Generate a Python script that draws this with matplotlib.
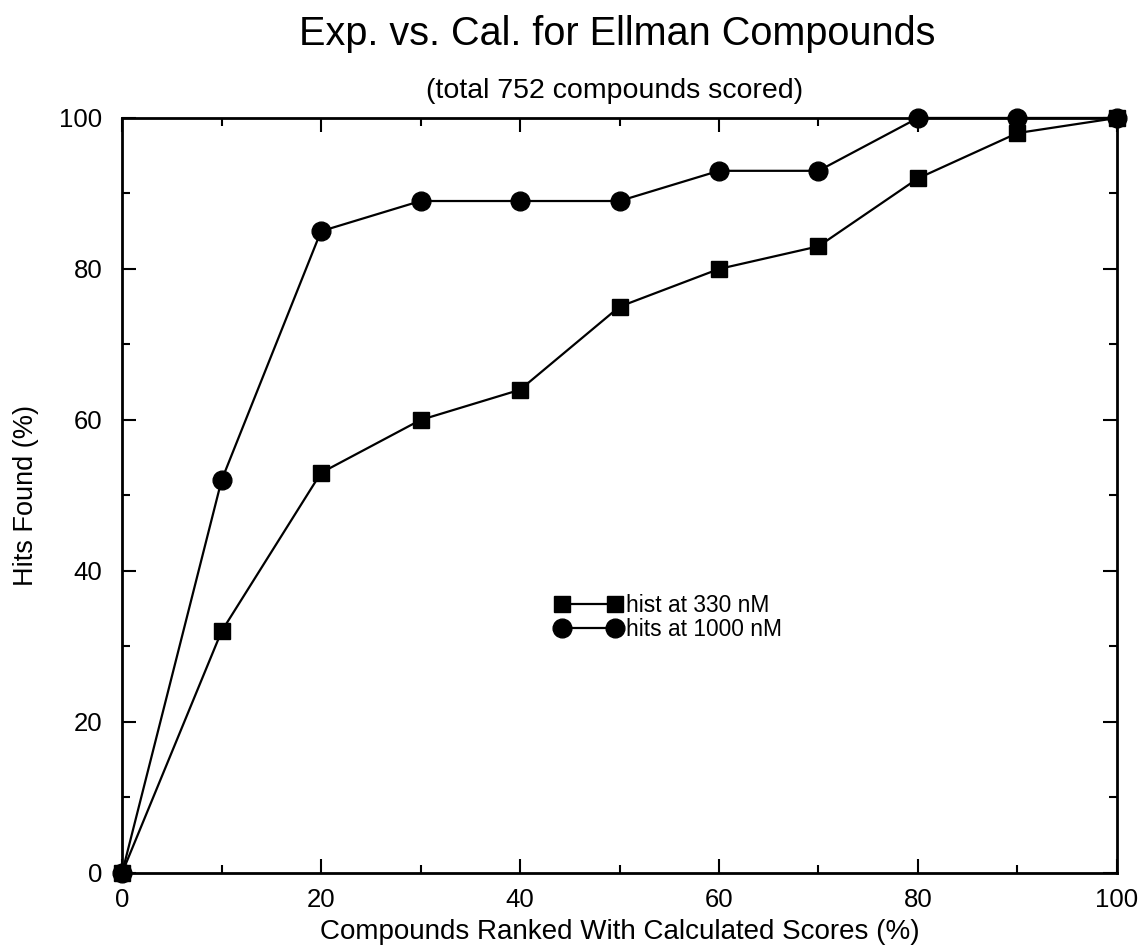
import matplotlib
matplotlib.use('Agg')
import matplotlib.pyplot as plt
from matplotlib.ticker import MultipleLocator

plt.rcParams['font.family'] = ['Liberation Sans', 'DejaVu Sans']

# Data
ranked = [0, 10, 20, 30, 40, 50, 60, 70, 80, 90, 100]
hits_330 = [0, 32, 53, 60, 64, 75, 80, 83, 92, 98, 100]
hits_1000 = [0, 52, 85, 89, 89, 89, 93, 93, 100, 100, 100]

fig = plt.figure(figsize=(11.45, 9.49), dpi=100)
ax = fig.add_axes([0.1066, 0.0801, 0.8689, 0.7956])

ax.plot(ranked, hits_330, color='black', lw=1.6, marker='s', markersize=12,
        label='hist at 330 nM', clip_on=False, zorder=3)
ax.plot(ranked, hits_1000, color='black', lw=1.6, marker='o', markersize=13.5,
        label='hits at 1000 nM', clip_on=False, zorder=3)

ax.set_xlim(0, 100)
ax.set_ylim(0, 100)
ax.xaxis.set_major_locator(MultipleLocator(20))
ax.xaxis.set_minor_locator(MultipleLocator(10))
ax.yaxis.set_major_locator(MultipleLocator(20))
ax.yaxis.set_minor_locator(MultipleLocator(10))
ax.tick_params(which='both', direction='in', top=True, right=True, width=1.5)
ax.tick_params(which='major', length=10, labelsize=18.5)
ax.tick_params(axis='x', which='major', pad=11)
ax.tick_params(axis='y', which='major', pad=14)
ax.tick_params(which='minor', length=6)
for s in ax.spines.values():
    s.set_linewidth(2)

ax.set_xlabel('Compounds Ranked With Calculated Scores (%)', fontsize=20, labelpad=5)
ax.set_ylabel('Hits Found (%)', fontsize=19.5, labelpad=15)

fig.text(0.539, 0.9526, 'Exp. vs. Cal. for Ellman Compounds', ha='center', va='baseline', fontsize=28.5)
fig.text(0.537, 0.8967, '(total 752 compounds scored)', ha='center', va='baseline', fontsize=20.5)

ax.legend(loc='upper left', bbox_to_anchor=(0.435, 0.3695), frameon=False, numpoints=2,
          fontsize=16.4, handlelength=2.92, handletextpad=0.22, borderpad=0, labelspacing=0.05,
          borderaxespad=0)

plt.savefig('out.png', dpi=100)
plt.close()
